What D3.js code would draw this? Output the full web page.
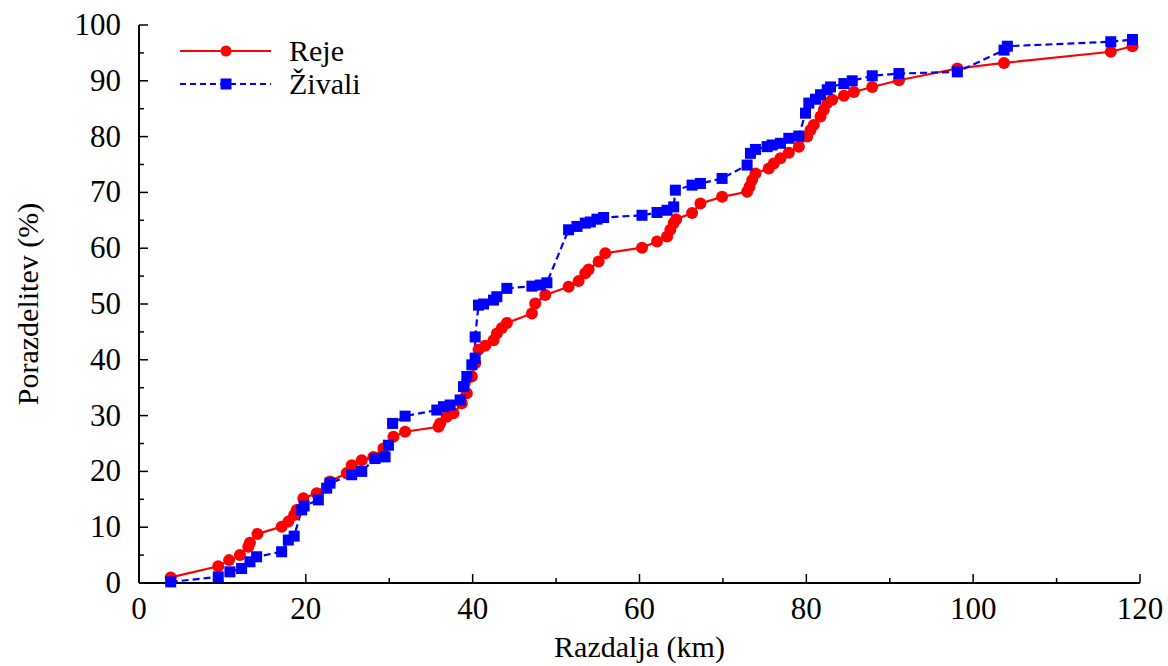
<!DOCTYPE html>
<html>
<head>
<meta charset="utf-8">
<script src="https://cdn.jsdelivr.net/npm/d3@7"></script>
<style>
  body { margin: 0; background: #fff; }
  svg text { font-family: 'Liberation Serif', 'DejaVu Serif', serif; }
</style>
</head>
<body>
<div id="chart"></div>
<script>
// series: [distance km, cumulative %]
const reje = [
  [3.8,1.0],[9.5,3.0],[10.8,4.1],[12.1,5.0],[13.1,6.5],[13.3,7.2],[14.2,8.8],[17.1,10.1],[17.9,11.0],
  [18.6,12.2],[18.9,13.1],[19.7,15.2],[21.3,16.1],[22.9,18.2],[24.9,19.7],[25.5,21.1],[26.7,22.0],
  [28.1,22.6],[29.3,24.1],[30.5,26.2],[31.9,27.1],[35.9,28.0],[36.1,28.6],[36.9,29.8],[37.7,30.4],
  [38.7,32.2],[39.3,34.0],[39.9,37.0],[40.3,39.4],[40.7,41.8],[41.5,42.5],[42.5,43.5],[42.9,44.7],
  [43.5,45.7],[44.1,46.6],[47.1,48.3],[47.5,50.1],[48.7,51.6],[51.5,53.1],[52.7,54.1],[53.5,55.5],
  [53.9,56.2],[55.1,57.6],[55.9,59.1],[60.3,60.1],[62.1,61.2],[63.3,62.1],[63.7,63.3],[64.1,64.5],
  [64.4,65.2],[66.3,66.3],[67.3,68.0],[69.9,69.2],[72.9,70.1],[73.2,71.0],[73.5,72.2],[73.9,73.4],
  [75.5,74.3],[76.1,75.2],[76.9,76.1],[77.9,77.1],[79.1,78.2],[80.1,80.0],[80.5,81.2],[80.9,82.1],
  [81.7,83.6],[82.1,84.8],[82.5,86.0],[83.1,86.6],[84.5,87.3],[85.7,88.0],[87.9,88.9],[91.1,90.1],
  [98.1,92.2],[103.7,93.2],[116.5,95.2],[119.1,96.2]
];
const zivali = [
  [3.8,0.2],[9.5,1.1],[10.9,2.0],[12.3,2.6],[13.3,3.8],[14.1,4.7],[17.1,5.6],[17.9,7.7],[18.6,8.4],
  [19.5,13.1],[19.8,13.8],[21.5,14.9],[22.5,17.0],[22.9,17.9],[25.5,19.4],[26.7,20.0],[28.3,22.3],
  [29.5,22.6],[29.9,24.7],[30.4,28.6],[31.9,29.9],[35.7,31.0],[36.5,31.6],[37.3,31.9],[38.5,32.8],
  [38.9,35.2],[39.3,37.0],[39.9,39.1],[40.3,40.3],[40.3,44.1],[40.7,49.8],[41.3,50.0],[42.5,50.7],
  [42.9,51.3],[44.1,52.8],[47.1,53.2],[48.1,53.4],[48.9,53.8],[51.5,63.3],[52.5,63.9],[53.5,64.5],
  [54.1,64.7],[54.9,65.2],[55.7,65.5],[60.3,65.9],[62.1,66.4],[63.3,66.8],[64.1,67.4],[64.3,70.4],
  [66.3,71.3],[67.3,71.6],[69.9,72.5],[72.9,74.9],[73.3,77.0],[73.9,77.7],[75.3,78.2],[75.9,78.5],
  [76.9,78.8],[77.9,79.7],[79.1,80.1],[79.9,84.2],[80.3,86.0],[81.1,86.7],[81.7,87.5],[82.5,88.4],
  [82.9,88.9],[84.5,89.5],[85.5,90.0],[87.9,90.9],[91.1,91.3],[98.1,91.6],[103.7,95.5],[104.1,96.2],
  [116.5,97.0],[119.1,97.4]
];
const xTicks = d3.range(0, 121, 10);
const xLabels = [0, 20, 40, 60, 80, 100, 120];
const yTicks = d3.range(0, 101, 5);
const yLabels = d3.range(0, 101, 10);
const seriesNames = ['Reje', 'Živali'];

const width = 1168, height = 666;
const margin = {t:25, r:28, b:83, l:139};

const svg = d3.select('#chart').append('svg')
  .attr('width', width).attr('height', height);

const x = d3.scaleLinear().domain([0, 120]).range([margin.l, width - margin.r]);
const y = d3.scaleLinear().domain([0, 100]).range([height - margin.b, margin.t]);

// axes
const ax = svg.append('g').attr('stroke', '#000').attr('stroke-width', 2);
ax.append('line')
  .attr('x1', x(0)).attr('x2', x(120)).attr('y1', y(0)).attr('y2', y(0));
ax.append('line')
  .attr('x1', x(0)).attr('x2', x(0)).attr('y1', y(0)).attr('y2', y(100));

ax.selectAll('.xt').data(xTicks).enter().append('line')
  .attr('x1', d => x(d)).attr('x2', d => x(d))
  .attr('y1', y(0)).attr('y2', d => y(0) - (d % 20 === 0 ? 9 : 5))
  .attr('stroke-width', 1.5);
ax.selectAll('.yt').data(yTicks).enter().append('line')
  .attr('y1', d => y(d)).attr('y2', d => y(d))
  .attr('x1', x(0)).attr('x2', d => x(0) + (d % 10 === 0 ? 9 : 5))
  .attr('stroke-width', 1.5);

svg.selectAll('.xl').data(xLabels).enter().append('text')
  .attr('x', d => x(d)).attr('y', y(0) + 36)
  .attr('text-anchor', 'middle').attr('font-size', 31)
  .text(d => d);
svg.selectAll('.yl').data(yLabels).enter().append('text')
  .attr('x', x(0) - 18).attr('y', d => y(d) + 10)
  .attr('text-anchor', 'end').attr('font-size', 31)
  .text(d => d);

svg.append('text')
  .attr('x', (x(0) + x(120)) / 2).attr('y', 657)
  .attr('text-anchor', 'middle').attr('font-size', 30)
  .text('Razdalja (km)');
svg.append('text')
  .attr('transform', `translate(38,${y(50)}) rotate(-90)`)
  .attr('text-anchor', 'middle').attr('font-size', 30)
  .text('Porazdelitev (%)');

// lines
const line = d3.line().x(d => x(d[0])).y(d => y(d[1]));

svg.append('path').datum(reje)
  .attr('d', line).attr('fill', 'none')
  .attr('stroke', '#ff0000').attr('stroke-width', 2.2);
svg.append('path').datum(zivali)
  .attr('d', line).attr('fill', 'none')
  .attr('stroke', '#0000ff').attr('stroke-width', 2.2)
  .attr('stroke-dasharray', '7,4');

svg.selectAll('.pr').data(reje).enter().append('circle')
  .attr('cx', d => x(d[0])).attr('cy', d => y(d[1]))
  .attr('r', 6).attr('fill', '#ff0000');
svg.selectAll('.pz').data(zivali).enter().append('rect')
  .attr('x', d => x(d[0]) - 5.5).attr('y', d => y(d[1]) - 5.5)
  .attr('width', 11).attr('height', 11).attr('fill', '#0000ff');

// legend
const leg = svg.append('g');
leg.append('line').attr('x1', 180).attr('x2', 271).attr('y1', 51).attr('y2', 51)
  .attr('stroke', '#ff0000').attr('stroke-width', 2.2);
leg.append('circle').attr('cx', 226).attr('cy', 51).attr('r', 5.5).attr('fill', '#ff0000');
leg.append('line').attr('x1', 180).attr('x2', 271).attr('y1', 84).attr('y2', 84)
  .attr('stroke', '#0000ff').attr('stroke-width', 2.2).attr('stroke-dasharray', '6,4');
leg.append('rect').attr('x', 220.5).attr('y', 78.5).attr('width', 11).attr('height', 11).attr('fill', '#0000ff');
leg.selectAll('.lt').data(seriesNames).enter().append('text')
  .attr('x', 289).attr('y', (d, i) => 61 + i * 33)
  .attr('font-size', 30)
  .text(d => d);
</script>
</body>
</html>
